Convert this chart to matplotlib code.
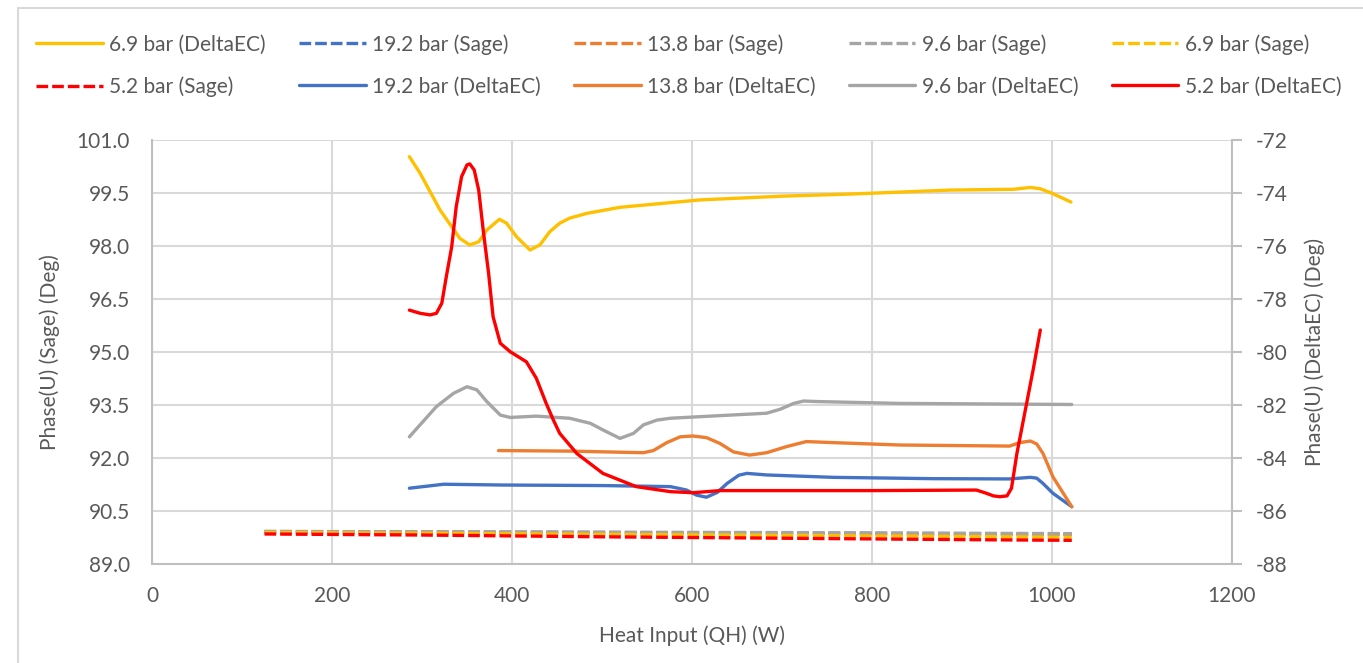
import matplotlib.pyplot as plt
from matplotlib.patches import Rectangle

plt.rcParams['font.family'] = ['Lato', 'DejaVu Sans']
plt.rcParams['axes.unicode_minus'] = False

# Sage results (left axis)
x_sage = [125, 300, 500, 700, 900, 1022]
sage_192 = [89.91, 89.90, 89.89, 89.87, 89.85, 89.84]
sage_138 = [89.92, 89.91, 89.89, 89.88, 89.86, 89.85]
sage_96 = [89.92, 89.91, 89.90, 89.89, 89.87, 89.86]
sage_69 = [89.89, 89.87, 89.84, 89.81, 89.78, 89.76]
sage_52 = [89.85, 89.82, 89.77, 89.73, 89.69, 89.67]

# DeltaEC results (right axis)
x_de69 = [286, 298, 309, 320, 333, 342, 353, 363, 372, 386, 394, 405, 420, 431, 442, 453, 464, 483, 520,
          609, 700, 776, 887, 957, 976, 987, 1000, 1021]
de_69 = [-72.63, -73.26, -73.95, -74.64, -75.27, -75.71, -75.96, -75.84, -75.4, -74.99, -75.14, -75.65, -76.15,
         -75.96, -75.46, -75.14, -74.95, -74.77, -74.54, -74.26, -74.12, -74.04, -73.89, -73.86, -73.79, -73.84,
         -74.01, -74.34]

x_de52 = [286, 298, 309, 316, 322, 327, 333, 338, 344, 350, 353, 358, 363, 368, 374, 379, 387, 398, 416, 427,
          438, 446, 453, 472, 501, 538, 576, 601, 631, 700, 800, 916, 927, 935, 942, 950, 955, 961, 979, 987]
de_52 = [-78.42, -78.54, -78.6, -78.54, -78.16, -77.16, -76.03, -74.52, -73.38, -72.94, -72.9, -73.13, -73.89,
         -75.4, -77.03, -78.67, -79.67, -79.99, -80.37, -80.99, -81.94, -82.57, -83.07, -83.83, -84.58, -85.08,
         -85.27, -85.31, -85.23, -85.23, -85.23, -85.21, -85.33, -85.43, -85.46, -85.43, -85.14, -83.83, -80.68,
         -79.17]

x_de96 = [286, 316, 335, 350, 361, 372, 387, 398, 427, 464, 487, 501, 520, 535, 546, 561, 576, 609, 683, 698,
          713, 724, 739, 831, 1022]
de_96 = [-83.2, -82.06, -81.56, -81.31, -81.43, -81.87, -82.38, -82.47, -82.42, -82.5, -82.69, -82.94, -83.26,
         -83.07, -82.75, -82.57, -82.5, -82.44, -82.31, -82.16, -81.94, -81.85, -81.87, -81.94, -81.98]

x_de138 = [385, 464, 546, 557, 572, 587, 601, 616, 631, 646, 664, 683, 705, 727, 757, 831, 953, 964, 976, 983,
           990, 1001, 1022]
de_138 = [-83.72, -83.74, -83.8, -83.72, -83.42, -83.2, -83.17, -83.23, -83.45, -83.77, -83.89, -83.8, -83.57,
          -83.38, -83.42, -83.51, -83.55, -83.42, -83.36, -83.47, -83.83, -84.71, -85.84]

x_de192 = [286, 324, 390, 501, 576, 594, 605, 616, 628, 639, 652, 661, 683, 757, 868, 953, 976, 983, 990, 1001,
           1022]
de_192 = [-85.14, -84.99, -85.02, -85.04, -85.08, -85.21, -85.4, -85.48, -85.3, -84.96, -84.65, -84.58, -84.64,
          -84.73, -84.78, -84.79, -84.73, -84.76, -84.96, -85.33, -85.84]

x_ticks = [0, 200, 400, 600, 800, 1000, 1200]
left_ticks = [89.0, 90.5, 92.0, 93.5, 95.0, 96.5, 98.0, 99.5, 101.0]
right_ticks = [-88, -86, -84, -82, -80, -78, -76, -74, -72]

blue, orange, gray, yellow, red = '#4472C4', '#ED7D31', '#A5A5A5', '#FFC000', '#FF0000'
txt = '#595959'
grid_c = '#D9D9D9'
spine_c = '#BFBFBF'

fig = plt.figure(figsize=(13.63, 6.63), dpi=100)
fig.patches.append(Rectangle((18 / 1363, -0.05), 1.2, 1 - 8 / 663 + 0.05, transform=fig.transFigure,
                             fill=False, edgecolor=grid_c, lw=1.5))

ax = fig.add_axes([152 / 1363, 99 / 663, 1080 / 1363, 424 / 663])
ax2 = ax.twinx()

dash = (0, (3.5, 1.2))
lw = 2.4
l_s192, = ax.plot(x_sage, sage_192, color=blue, lw=lw, linestyle=dash, label='19.2 bar (Sage)')
l_s138, = ax.plot(x_sage, sage_138, color=orange, lw=lw, linestyle=dash, label='13.8 bar (Sage)')
l_s96, = ax.plot(x_sage, sage_96, color=gray, lw=lw, linestyle=dash, label='9.6 bar (Sage)')
l_s69, = ax.plot(x_sage, sage_69, color=yellow, lw=lw, linestyle=dash, label='6.9 bar (Sage)')
l_s52, = ax.plot(x_sage, sage_52, color=red, lw=lw, linestyle=dash, label='5.2 bar (Sage)')

solid = dict(lw=lw, solid_joinstyle='round', solid_capstyle='round')
l_d69, = ax2.plot(x_de69, de_69, color=yellow, label='6.9 bar (DeltaEC)', **solid)
l_d192, = ax2.plot(x_de192, de_192, color=blue, label='19.2 bar (DeltaEC)', **solid)
l_d138, = ax2.plot(x_de138, de_138, color=orange, label='13.8 bar (DeltaEC)', **solid)
l_d96, = ax2.plot(x_de96, de_96, color=gray, label='9.6 bar (DeltaEC)', **solid)
l_d52, = ax2.plot(x_de52, de_52, color=red, label='5.2 bar (DeltaEC)', **solid)

ax.set_xlim(0, 1200)
ax.set_ylim(89.0, 101.0)
ax2.set_ylim(-88, -72)
ax.set_xticks(x_ticks)
ax.set_yticks(left_ticks)
ax.set_yticklabels([f'{v:.1f}' for v in left_ticks])
ax2.set_yticks(right_ticks)

ax.grid(True, color=grid_c, lw=1.5)
ax.set_axisbelow(True)

for s in ['top', 'right']:
    ax.spines[s].set_visible(False)
for s in ['top', 'left', 'bottom']:
    ax2.spines[s].set_visible(False)
for s in ['left', 'bottom']:
    ax.spines[s].set_color(spine_c)
    ax.spines[s].set_linewidth(1.5)
ax2.spines['right'].set_color(spine_c)
ax2.spines['right'].set_linewidth(1.5)

ax.tick_params(axis='x', length=0, pad=16, labelsize=15, labelcolor=txt)
ax.tick_params(axis='y', length=0, pad=16, labelsize=15, labelcolor=txt)
ax2.tick_params(axis='y', length=7, width=1.5, color=spine_c, pad=10, labelsize=15, labelcolor=txt)

ax.set_xlabel('Heat Input (QH) (W)', fontsize=15, color=txt, labelpad=14)
ax.set_ylabel('Phase(U) (Sage) (Deg)', fontsize=15, color=txt, labelpad=12)
ax2.set_ylabel('Phase(U) (DeltaEC) (Deg)', fontsize=15, color=txt, labelpad=12)

# legend rows: matplotlib fills columns first, so interleave the two rows
row1 = [l_d69, l_s192, l_s138, l_s96, l_s69]
row2 = [l_s52, l_d192, l_d138, l_d96, l_d52]
handles = [h for pair in zip(row1, row2) for h in pair]
fig.legend(handles, [h.get_label() for h in handles], ncol=5, loc='upper left',
           bbox_to_anchor=(36 / 1363, 1 - 34 / 663), frameon=False, fontsize=15,
           labelcolor=txt, handlelength=3.2, handletextpad=0.3, columnspacing=1.6,
           labelspacing=1.06, borderpad=0, borderaxespad=0)

fig.savefig('out.png', dpi=100)
